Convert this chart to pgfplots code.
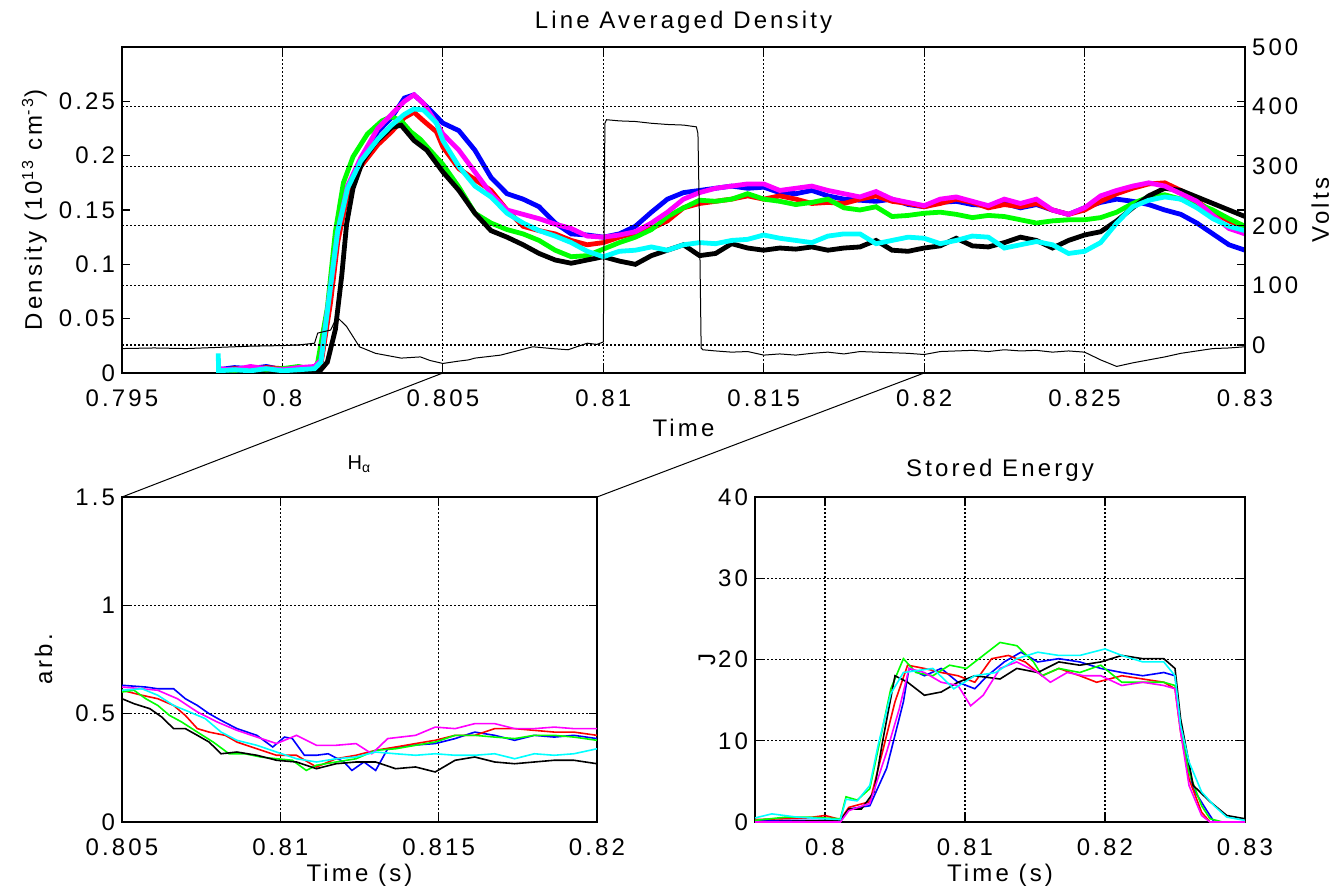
\documentclass[border=0pt]{standalone}
\usepackage{fontspec}
\setmainfont{Liberation Sans}[LetterSpace=13]
\usepackage{pgfplots}
\pgfplotsset{compat=1.18}
\definecolor{mblue}{rgb}{0,0,1}
\definecolor{mred}{rgb}{1,0,0}
\definecolor{mgreen}{rgb}{0,1,0}
\definecolor{mcyan}{rgb}{0,1,1}
\definecolor{mmag}{rgb}{1,0,1}

\begin{document}
\begin{tikzpicture}
\path[use as bounding box] (0,0) rectangle (669pt,445pt);
\pgfplotsset{
  every axis/.append style={
    scale only axis,
    font=\fontsize{12}{14}\selectfont,
    tick label style={font=\fontsize{12}{14}\selectfont},
    xticklabel style={yshift=-5pt},
    axis line style={line width=0.9pt},
    tick align=inside,
    tick style={black, line width=0.6pt},
    major tick length=4pt,
    grid style={black, line width=0.6pt, dash pattern=on 1pt off 1pt},
    scaled ticks=false,
    clip=true,
  },
  dens/.style={line width=2.4pt},
  hal/.style={line width=0.8pt},
}

% ---------------- top: density (left axis) ----------------
\begin{axis}[
  name=top, at={(61pt,258.5pt)}, anchor=south west,
  width=561.5pt, height=163pt,
  xmin=0.795, xmax=0.83, ymin=0, ymax=0.3,
  xtick={0.795,0.8,0.805,0.81,0.815,0.82,0.825,0.83},
  xticklabels={0.795,0.8,0.805,0.81,0.815,0.82,0.825,0.83},
  ytick={0,0.05,0.1,0.15,0.2,0.25},
  yticklabels={0,0.05,0.1,0.15,0.2,0.25},
  xmajorgrids,
  title={Line Averaged Density},
  title style={at={(axis description cs:0.5,1)}, anchor=center, yshift=6.5pt},
  xlabel={Time},
  xlabel style={at={(axis description cs:0.5,0)}, anchor=center, yshift=-27.5pt},
  ylabel={Density (10\textsuperscript{13} cm\textsuperscript{-3})},
  ylabel style={at={(axis description cs:-0.078,0.5)}, anchor=center},
]
% blue
\addplot[dens, mblue] coordinates {
(0.798,0.003)(0.7985,0.005)(0.799,0.004)(0.7995,0.006)(0.8,0.003)(0.8005,0.005)(0.801,0.004)
(0.8012,0.010)(0.8015,0.070)(0.80172,0.125)(0.80203,0.168)(0.80244,0.196)(0.80297,0.222)
(0.8034,0.235)(0.8038,0.253)(0.8041,0.256)(0.8044,0.248)(0.8048,0.236)(0.805,0.230)
(0.8055,0.223)(0.806,0.205)(0.8065,0.180)(0.807,0.165)(0.8075,0.160)(0.808,0.153)
(0.8085,0.138)(0.809,0.128)(0.8095,0.127)(0.81,0.125)(0.8105,0.128)(0.811,0.135)
(0.8115,0.148)(0.812,0.160)(0.8125,0.166)(0.813,0.168)(0.8135,0.170)(0.814,0.172)
(0.8145,0.170)(0.815,0.171)(0.8155,0.166)(0.816,0.165)(0.8165,0.168)(0.817,0.163)
(0.8175,0.160)(0.818,0.159)(0.8185,0.158)(0.819,0.160)(0.8195,0.155)(0.82,0.153)
(0.8205,0.157)(0.821,0.158)(0.8215,0.155)(0.822,0.154)(0.8225,0.156)(0.823,0.152)
(0.8235,0.155)(0.824,0.150)(0.8245,0.146)(0.825,0.152)(0.8255,0.157)(0.826,0.160)
(0.8265,0.158)(0.827,0.155)(0.8275,0.150)(0.828,0.146)(0.8285,0.138)(0.829,0.128)
(0.8295,0.118)(0.83,0.113)};
% red
\addplot[dens, mred] coordinates {
(0.798,0.002)(0.7985,0.004)(0.799,0.003)(0.7995,0.005)(0.8,0.004)(0.8005,0.003)(0.801,0.005)
(0.8012,0.008)(0.8015,0.065)(0.80172,0.120)(0.80203,0.165)(0.80244,0.190)(0.80297,0.210)
(0.8034,0.222)(0.8038,0.235)(0.8041,0.240)(0.8044,0.232)(0.8048,0.222)(0.805,0.208)
(0.8055,0.188)(0.806,0.178)(0.8065,0.168)(0.807,0.150)(0.8075,0.135)(0.808,0.131)
(0.8085,0.128)(0.809,0.122)(0.8095,0.118)(0.81,0.120)(0.8105,0.125)(0.811,0.129)
(0.8115,0.133)(0.812,0.140)(0.8125,0.152)(0.813,0.156)(0.8135,0.158)(0.814,0.160)
(0.8145,0.163)(0.815,0.160)(0.8155,0.163)(0.816,0.160)(0.8165,0.156)(0.817,0.157)
(0.8175,0.156)(0.818,0.160)(0.8185,0.163)(0.819,0.158)(0.8195,0.156)(0.82,0.153)
(0.8205,0.156)(0.821,0.160)(0.8215,0.157)(0.822,0.152)(0.8225,0.155)(0.823,0.153)
(0.8235,0.156)(0.824,0.150)(0.8245,0.146)(0.825,0.150)(0.8255,0.158)(0.826,0.165)
(0.8265,0.170)(0.827,0.174)(0.8275,0.175)(0.828,0.168)(0.8285,0.158)(0.829,0.148)
(0.8295,0.140)(0.83,0.133)};
% green
\addplot[dens, mgreen] coordinates {
(0.798,0.003)(0.7985,0.002)(0.799,0.005)(0.7995,0.003)(0.8,0.004)(0.8005,0.006)(0.801,0.003)
(0.8011,0.010)(0.8014,0.060)(0.80165,0.130)(0.8019,0.175)(0.8022,0.199)(0.80265,0.220)
(0.8031,0.232)(0.8034,0.236)(0.8037,0.232)(0.804,0.222)(0.8043,0.215)(0.8046,0.205)
(0.805,0.192)(0.8055,0.171)(0.806,0.147)(0.8065,0.138)(0.807,0.132)(0.8075,0.128)
(0.808,0.122)(0.8085,0.113)(0.809,0.107)(0.8095,0.108)(0.81,0.114)(0.8105,0.120)
(0.811,0.125)(0.8115,0.132)(0.812,0.144)(0.8125,0.152)(0.813,0.159)(0.8135,0.158)
(0.814,0.160)(0.8145,0.165)(0.815,0.160)(0.8155,0.158)(0.816,0.155)(0.8165,0.157)
(0.817,0.160)(0.8175,0.152)(0.818,0.150)(0.8185,0.153)(0.819,0.144)(0.8195,0.145)
(0.82,0.147)(0.8205,0.148)(0.821,0.146)(0.8215,0.143)(0.822,0.145)(0.8225,0.144)
(0.823,0.141)(0.8235,0.138)(0.824,0.140)(0.8245,0.141)(0.825,0.141)(0.8255,0.143)
(0.826,0.148)(0.8265,0.156)(0.827,0.162)(0.8275,0.164)(0.828,0.160)(0.8285,0.156)
(0.829,0.150)(0.8295,0.142)(0.83,0.135)};
% black density
\addplot[dens, black] coordinates {
(0.798,0.002)(0.7985,0.003)(0.799,0.002)(0.7995,0.004)(0.8,0.002)(0.8005,0.003)(0.801,0.002)
(0.8012,0.003)(0.8014,0.010)(0.80165,0.040)(0.80185,0.090)(0.802,0.137)(0.8022,0.170)
(0.8025,0.195)(0.8029,0.212)(0.8034,0.226)(0.8037,0.228)(0.8041,0.214)(0.8045,0.205)
(0.805,0.185)(0.8055,0.168)(0.806,0.147)(0.8065,0.131)(0.807,0.125)(0.8075,0.118)
(0.808,0.110)(0.8085,0.104)(0.809,0.101)(0.8095,0.104)(0.81,0.107)(0.8105,0.103)
(0.811,0.100)(0.8115,0.108)(0.812,0.113)(0.8125,0.118)(0.813,0.108)(0.8135,0.110)
(0.814,0.119)(0.8145,0.115)(0.815,0.113)(0.8155,0.115)(0.816,0.114)(0.8165,0.116)
(0.817,0.113)(0.8175,0.115)(0.818,0.116)(0.8185,0.122)(0.819,0.113)(0.8195,0.112)
(0.82,0.115)(0.8205,0.117)(0.821,0.124)(0.8215,0.117)(0.822,0.116)(0.8225,0.120)
(0.823,0.125)(0.8235,0.122)(0.824,0.115)(0.8245,0.122)(0.825,0.127)(0.8255,0.130)
(0.826,0.140)(0.8265,0.152)(0.827,0.163)(0.8275,0.170)(0.828,0.168)(0.8285,0.162)
(0.829,0.156)(0.8295,0.150)(0.83,0.144)};
% magenta
\addplot[dens, mmag] coordinates {
(0.798,0.004)(0.7985,0.003)(0.799,0.006)(0.7995,0.004)(0.8,0.003)(0.8005,0.005)(0.801,0.006)
(0.8012,0.012)(0.8015,0.080)(0.80172,0.130)(0.80203,0.172)(0.80244,0.198)(0.80297,0.225)
(0.8034,0.238)(0.8038,0.250)(0.8041,0.256)(0.8044,0.248)(0.8048,0.230)(0.805,0.220)
(0.8055,0.205)(0.806,0.185)(0.8065,0.165)(0.807,0.150)(0.8075,0.146)(0.808,0.142)
(0.8085,0.137)(0.809,0.133)(0.8095,0.126)(0.81,0.125)(0.8105,0.127)(0.811,0.130)
(0.8115,0.138)(0.812,0.148)(0.8125,0.160)(0.813,0.166)(0.8135,0.170)(0.814,0.172)
(0.8145,0.174)(0.815,0.174)(0.8155,0.168)(0.816,0.170)(0.8165,0.172)(0.817,0.168)
(0.8175,0.165)(0.818,0.162)(0.8185,0.167)(0.819,0.160)(0.8195,0.157)(0.82,0.154)
(0.8205,0.160)(0.821,0.162)(0.8215,0.158)(0.822,0.154)(0.8225,0.160)(0.823,0.156)
(0.8235,0.160)(0.824,0.150)(0.8245,0.146)(0.825,0.152)(0.8255,0.163)(0.826,0.168)
(0.8265,0.172)(0.827,0.175)(0.8275,0.172)(0.828,0.165)(0.8285,0.158)(0.829,0.145)
(0.8295,0.133)(0.83,0.128)};
% cyan
\addplot[dens, mcyan] coordinates {
(0.798,0.018)(0.79801,0.002)(0.7985,0.003)(0.799,0.002)(0.7995,0.004)(0.8,0.002)(0.8005,0.003)(0.801,0.004)
(0.8012,0.010)(0.8015,0.080)(0.80172,0.130)(0.80203,0.170)(0.80244,0.195)(0.80297,0.215)
(0.8034,0.228)(0.8038,0.238)(0.8041,0.243)(0.8044,0.242)(0.8048,0.230)(0.805,0.214)
(0.8055,0.190)(0.806,0.172)(0.8065,0.162)(0.807,0.147)(0.8075,0.138)(0.808,0.131)
(0.8085,0.126)(0.809,0.120)(0.8095,0.112)(0.81,0.107)(0.8105,0.112)(0.811,0.113)
(0.8115,0.116)(0.812,0.113)(0.8125,0.118)(0.813,0.120)(0.8135,0.119)(0.814,0.122)
(0.8145,0.123)(0.815,0.127)(0.8155,0.124)(0.816,0.122)(0.8165,0.120)(0.817,0.126)
(0.8175,0.128)(0.818,0.128)(0.8185,0.119)(0.819,0.122)(0.8195,0.125)(0.82,0.124)
(0.8205,0.119)(0.821,0.122)(0.8215,0.126)(0.822,0.125)(0.8225,0.115)(0.823,0.118)
(0.8235,0.121)(0.824,0.118)(0.8245,0.110)(0.825,0.112)(0.8255,0.120)(0.826,0.138)
(0.8265,0.153)(0.827,0.159)(0.8275,0.162)(0.828,0.160)(0.8285,0.152)(0.829,0.142)
(0.8295,0.135)(0.83,0.131)};
\coordinate (z1) at (axis cs:0.805,0);
\coordinate (z2) at (axis cs:0.82,0);
\end{axis}

% ---------------- top: volts (right axis) ----------------
\begin{axis}[
  at={(61pt,258.5pt)}, anchor=south west,
  width=561.5pt, height=163pt,
  xmin=0.795, xmax=0.83, ymin=-47, ymax=500,
  axis y line*=right, axis x line=none,
  ytick={0,100,200,300,400,500},
  yticklabels={0,100,200,300,400,500},
  ymajorgrids,
  ylabel={Volts},
  ylabel style={at={(axis description cs:1.067,0.5)}, anchor=center},
]
\addplot[black, line width=0.5pt] coordinates {
(0.795,-6)(0.796,-5)(0.797,-6)(0.798,-4)(0.799,-2)(0.8,-1)(0.8005,0)(0.801,3)
(0.8011,20)(0.8015,25)(0.8017,47)(0.802,31)(0.8024,-3)(0.8029,-14)(0.8037,-22)
(0.8043,-20)(0.8046,-26)(0.805,-31)(0.8055,-27)(0.8058,-25)(0.806,-22)(0.8068,-17)
(0.8073,-10)(0.8078,-3)(0.8084,-6)(0.8089,-8)(0.8095,3)(0.8098,1)(0.81,5)
(0.81005,372)(0.8101,378)(0.8105,376)(0.811,375)(0.8115,372)(0.812,370)(0.8125,369)
(0.8129,366)(0.81295,355)(0.8130,200)(0.81305,-5)(0.8131,-8)(0.8135,-10)(0.814,-12)
(0.8145,-11)(0.815,-17)(0.8155,-15)(0.816,-17)(0.8165,-14)(0.817,-12)(0.8175,-15)
(0.818,-11)(0.8185,-12)(0.819,-13)(0.8195,-14)(0.82,-16)(0.8205,-11)(0.821,-10)
(0.8215,-9)(0.822,-11)(0.8225,-8)(0.823,-10)(0.8235,-9)(0.824,-12)(0.8245,-10)
(0.825,-12)(0.8255,-25)(0.826,-36)(0.8265,-30)(0.827,-25)(0.8275,-20)(0.828,-14)
(0.8285,-10)(0.829,-6)(0.8295,-5)(0.83,-3)};
\end{axis}

% ---------------- bottom left: H alpha ----------------
\begin{axis}[
  name=hl, at={(61pt,34pt)}, anchor=south west,
  width=237.5pt, height=162.5pt,
  xmin=0.805, xmax=0.82, ymin=0, ymax=1.5,
  xtick={0.805,0.81,0.815,0.82},
  xticklabels={0.805,0.81,0.815,0.82},
  ytick={0,0.5,1,1.5},
  yticklabels={0,0.5,1,1.5},
  grid=major,
  title={\fontsize{10}{11}\selectfont H\textsubscript{α}},
  title style={at={(axis description cs:0.5,1)}, anchor=base, yshift=8pt},
  xlabel={Time (s)},
  xlabel style={at={(axis description cs:0.5,0)}, anchor=center, yshift=-26.5pt},
  ylabel={arb.},
  ylabel style={at={(axis description cs:-0.165,0.5)}, anchor=center},
]
\addplot[hal, mblue] coordinates {
(0.805,0.631)(0.80575,0.623)(0.80613,0.615)(0.80663,0.615)(0.807,0.569)(0.80738,0.538)
(0.80775,0.5)(0.80813,0.469)(0.80863,0.431)(0.80926,0.4)(0.80976,0.346)(0.81013,0.392)
(0.81038,0.385)(0.81076,0.308)(0.81114,0.308)(0.81151,0.315)(0.81201,0.277)(0.81226,0.238)
(0.81264,0.277)(0.81301,0.238)(0.81339,0.338)(0.81414,0.354)(0.81489,0.362)(0.81552,0.385)
(0.81614,0.415)(0.81677,0.4)(0.8174,0.377)(0.81802,0.4)(0.81865,0.392)(0.81927,0.4)(0.82,0.385)};
\addplot[hal, mred] coordinates {
(0.805,0.608)(0.80563,0.585)(0.80613,0.569)(0.80663,0.538)(0.807,0.492)(0.80738,0.431)
(0.80775,0.415)(0.80826,0.4)(0.80863,0.369)(0.80926,0.338)(0.80988,0.308)(0.81051,0.308)
(0.81114,0.254)(0.81176,0.292)(0.81239,0.308)(0.81301,0.331)(0.81364,0.346)(0.81427,0.362)
(0.81489,0.377)(0.81552,0.4)(0.81614,0.4)(0.81677,0.431)(0.8174,0.431)(0.81802,0.423)
(0.81865,0.415)(0.81927,0.415)(0.82,0.4)};
\addplot[hal, mgreen] coordinates {
(0.805,0.6)(0.80538,0.608)(0.80575,0.569)(0.80613,0.538)(0.8065,0.492)(0.80688,0.462)
(0.80738,0.415)(0.80788,0.369)(0.80838,0.315)(0.80888,0.315)(0.80938,0.3)(0.80988,0.292)
(0.81038,0.285)(0.81082,0.238)(0.81114,0.262)(0.81176,0.277)(0.81239,0.292)(0.81301,0.331)
(0.81364,0.338)(0.81427,0.354)(0.81489,0.369)(0.81552,0.4)(0.81614,0.4)(0.81677,0.392)
(0.8174,0.385)(0.81802,0.4)(0.81865,0.4)(0.81927,0.392)(0.82,0.377)};
\addplot[hal, black] coordinates {
(0.805,0.569)(0.80538,0.546)(0.80588,0.523)(0.80625,0.485)(0.80663,0.431)(0.807,0.431)
(0.80738,0.4)(0.80775,0.369)(0.80813,0.315)(0.80863,0.323)(0.80926,0.308)(0.80988,0.285)
(0.81051,0.277)(0.81114,0.246)(0.81176,0.269)(0.81239,0.277)(0.81301,0.277)(0.81364,0.246)
(0.81427,0.254)(0.81489,0.231)(0.81552,0.285)(0.81614,0.3)(0.81677,0.277)(0.8174,0.269)
(0.81802,0.277)(0.81865,0.285)(0.81927,0.285)(0.82,0.269)};
\addplot[hal, mmag] coordinates {
(0.805,0.623)(0.80563,0.615)(0.80613,0.608)(0.80675,0.569)(0.80738,0.508)(0.808,0.462)
(0.80863,0.423)(0.80926,0.392)(0.80988,0.362)(0.81051,0.4)(0.81114,0.354)(0.81176,0.354)
(0.81239,0.362)(0.81289,0.315)(0.81339,0.385)(0.81427,0.4)(0.81489,0.438)(0.81552,0.431)
(0.81614,0.454)(0.81677,0.454)(0.8174,0.431)(0.81802,0.431)(0.81865,0.438)(0.81927,0.431)(0.82,0.431)};
\addplot[hal, mcyan] coordinates {
(0.805,0.608)(0.80563,0.615)(0.80613,0.585)(0.80663,0.538)(0.80713,0.508)(0.80763,0.477)
(0.80813,0.415)(0.80863,0.377)(0.80926,0.354)(0.80988,0.323)(0.81051,0.292)(0.81114,0.277)
(0.81176,0.292)(0.81239,0.3)(0.81301,0.323)(0.81364,0.315)(0.81427,0.308)(0.81489,0.315)
(0.81552,0.308)(0.81614,0.308)(0.81677,0.315)(0.8174,0.292)(0.81802,0.315)(0.81865,0.308)
(0.81927,0.315)(0.82,0.338)};
\end{axis}

\draw[black, line width=0.5pt] (z1) -- (hl.north west);
\draw[black, line width=0.5pt] (z2) -- (hl.north east);

% ---------------- bottom right: stored energy ----------------
\begin{axis}[
  name=se, at={(377.5pt,34pt)}, anchor=south west,
  width=245pt, height=162.5pt,
  xmin=0.795, xmax=0.83, ymin=0, ymax=40,
  xtick={0.8,0.81,0.82,0.83},
  xticklabels={0.8,0.81,0.82,0.83},
  ytick={0,10,20,30,40},
  yticklabels={0,10,20,30,40},
  grid=major,
  title={Stored Energy},
  title style={at={(axis description cs:0.5,1)}, anchor=center, yshift=7.5pt},
  xlabel={Time (s)},
  xlabel style={at={(axis description cs:0.5,0)}, anchor=center, yshift=-26.5pt},
  ylabel={J},
  ylabel style={at={(axis description cs:-0.098,0.5)}, anchor=center},
]
\addplot[hal, mblue] coordinates {
(0.795,0.2)(0.8011,0.2)(0.8017,1.6)(0.8032,2.0)(0.8044,6.6)(0.805,10.7)(0.8056,14.8)
(0.806,18.9)(0.8071,18.0)(0.8083,18.9)(0.8095,17.2)(0.8107,16.4)(0.8116,18.0)(0.8128,19.7)
(0.814,20.9)(0.8152,19.7)(0.8167,20.1)(0.8182,19.7)(0.8197,18.9)(0.8212,18.4)(0.8227,18.0)
(0.8242,18.4)(0.825,18.0)(0.8254,11.5)(0.8263,4.1)(0.8272,1.6)(0.8278,0)(0.83,0)};
\addplot[hal, mred] coordinates {
(0.795,0.3)(0.7987,0.5)(0.8,0.8)(0.8011,0.3)(0.8017,1.8)(0.8032,2.5)(0.8041,8.6)(0.805,14.8)
(0.8059,19.3)(0.8071,18.9)(0.8083,18.4)(0.8095,18.0)(0.8107,17.2)(0.8119,20.1)(0.8131,20.5)
(0.8143,19.7)(0.8155,18.0)(0.8167,18.9)(0.8182,18.0)(0.8194,17.2)(0.8212,18.0)(0.8227,17.6)
(0.8242,17.2)(0.825,16.4)(0.8254,11.1)(0.826,5.3)(0.8269,1.2)(0.8275,0)(0.83,0)};
\addplot[hal, mgreen] coordinates {
(0.795,0.2)(0.7972,0.6)(0.7987,0.6)(0.8011,0.4)(0.8015,3.1)(0.8023,2.7)(0.8032,4.1)(0.8038,9.0)
(0.8047,16.4)(0.8056,20.1)(0.8065,18.4)(0.8077,18.0)(0.8089,19.3)(0.8101,18.9)(0.8113,20.5)
(0.8125,22.1)(0.8137,21.7)(0.8149,19.7)(0.8155,18.0)(0.8167,18.9)(0.8182,18.4)(0.8197,19.3)
(0.8212,17.2)(0.8227,17.2)(0.8242,17.2)(0.825,16.8)(0.8254,11.5)(0.826,6.1)(0.8269,2.0)
(0.8275,0.4)(0.8284,0)(0.83,0)};
\addplot[hal, black] coordinates {
(0.795,0)(0.8011,0.2)(0.8017,1.6)(0.8026,1.6)(0.8035,3.7)(0.8041,9.8)(0.805,18.0)(0.8059,17.2)
(0.8071,15.6)(0.8083,16.0)(0.8095,17.2)(0.8107,18.0)(0.8125,17.6)(0.8137,18.9)(0.8152,18.4)
(0.8167,19.7)(0.8182,19.3)(0.8197,19.7)(0.8212,20.5)(0.8227,20.1)(0.8242,20.1)(0.825,18.9)
(0.8254,12.7)(0.8263,4.5)(0.8275,2.5)(0.8287,0.8)(0.83,0.4)};
\addplot[hal, mmag] coordinates {
(0.795,0)(0.8011,0)(0.8017,1.4)(0.8032,2.3)(0.8044,8.6)(0.8053,13.9)(0.806,18.9)(0.8071,18.4)
(0.8083,17.2)(0.8095,16.8)(0.8104,14.3)(0.8113,15.6)(0.8125,18.9)(0.8137,19.7)(0.8152,18.4)
(0.8161,17.2)(0.8173,18.4)(0.8185,18.0)(0.8197,18.0)(0.8212,16.8)(0.8227,17.2)(0.8242,16.8)
(0.825,16.4)(0.8254,11.1)(0.826,4.5)(0.8269,0.8)(0.8275,0)(0.83,0)};
\addplot[hal, mcyan] coordinates {
(0.795,0.5)(0.7962,1.0)(0.798,0.6)(0.8,0.4)(0.8011,0.3)(0.8015,2.8)(0.8023,2.6)(0.8032,4.5)
(0.8038,9.5)(0.8047,15.8)(0.8056,18.4)(0.8077,18.9)(0.8092,16.4)(0.8107,18.0)(0.8122,18.4)
(0.8137,20.1)(0.8152,20.9)(0.8167,20.5)(0.8182,20.5)(0.82,21.3)(0.8212,20.5)(0.8227,19.7)
(0.8242,19.7)(0.825,18.0)(0.8254,11.9)(0.826,7.4)(0.8269,3.7)(0.8278,2.0)(0.8287,0.6)(0.83,0.2)};
\end{axis}
\end{tikzpicture}
\end{document}
